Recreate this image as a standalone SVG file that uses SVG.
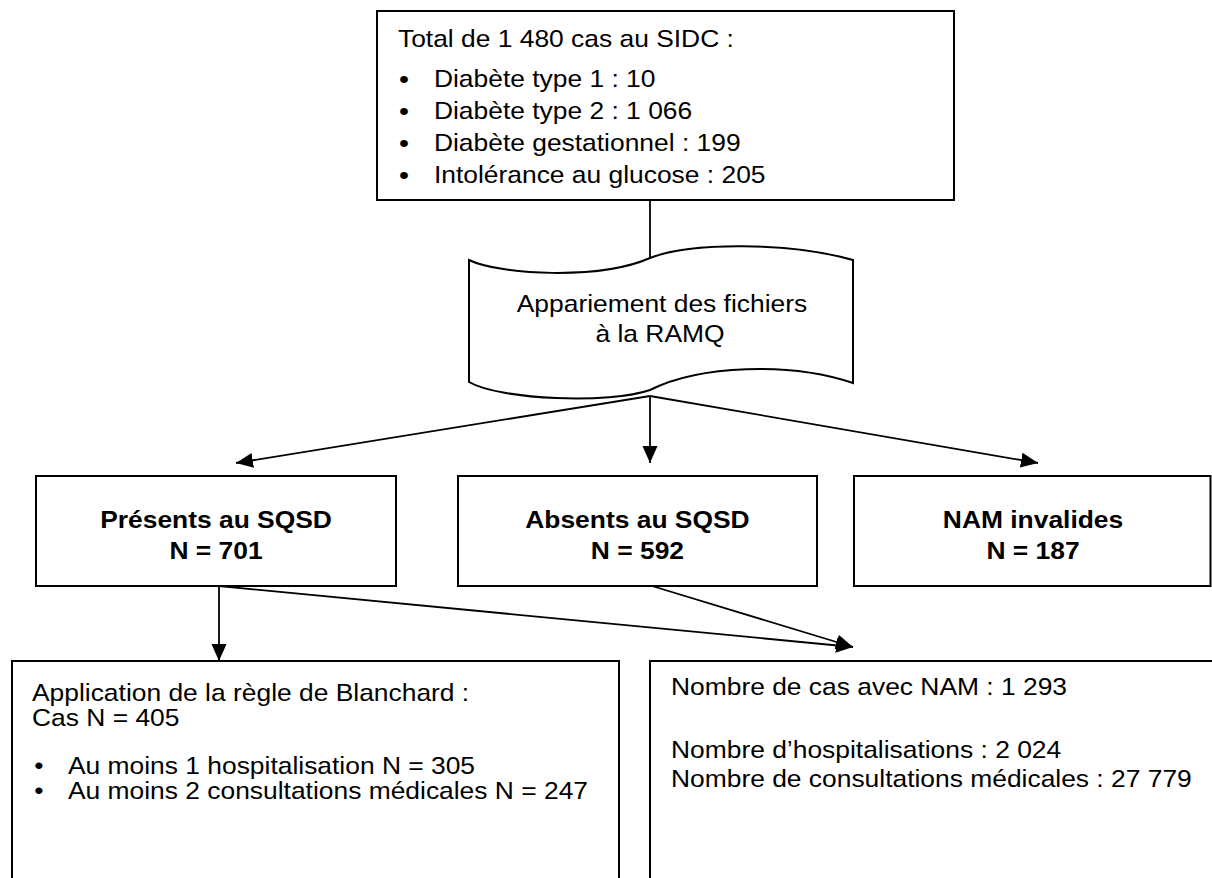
<svg xmlns="http://www.w3.org/2000/svg" width="1212" height="878" viewBox="0 0 1212 878">
<defs>
<marker id="ah" markerUnits="userSpaceOnUse" markerWidth="18" markerHeight="16" refX="17" refY="7.5" orient="auto">
<path d="M0,0 L17,7.5 L0,15 Z" fill="#000"/>
</marker>
<style>
.box{fill:#fff;stroke:#000;stroke-width:2}
.t{font-family:"Liberation Sans",Arial,sans-serif;font-size:24px;fill:#000}
.b{font-family:"Liberation Sans",Arial,sans-serif;font-size:24px;font-weight:bold;fill:#000;text-anchor:middle}
.bul{font-size:26px}
.c{text-anchor:middle}
.ln{fill:none;stroke:#000;stroke-width:1.8}
.arr{fill:none;stroke:#000;stroke-width:1.8;marker-end:url(#ah)}
</style>
</defs>
<rect width="1212" height="878" fill="#fff"/>
<g id="connectors">
<line class="ln" x1="650" y1="200" x2="650" y2="258"/>
<line class="arr" x1="650" y1="396" x2="236" y2="463"/>
<line class="arr" x1="650" y1="396" x2="650" y2="463"/>
<line class="arr" x1="650" y1="396" x2="1038" y2="463"/>
<line class="arr" x1="219" y1="586" x2="219" y2="661"/>
<line class="arr" x1="219" y1="586" x2="853" y2="647"/>
<line class="arr" x1="652" y1="586" x2="853" y2="647"/>
</g>
<g id="total">
<rect class="box" x="377" y="11" width="577" height="189" stroke-width="2.4"/>
<text class="t" transform="scale(1.1,1)"><tspan x="361.8" y="47">Total de 1 480 cas au SIDC :</tspan><tspan class="bul" x="362.7" y="88">•</tspan><tspan x="394.5" y="87">Diabète type 1 : 10</tspan><tspan class="bul" x="362.7" y="120.5">•</tspan><tspan x="394.5" y="119.5">Diabète type 2 : 1 066</tspan><tspan class="bul" x="362.7" y="152.5">•</tspan><tspan x="394.5" y="151.5">Diabète gestationnel : 199</tspan><tspan class="bul" x="362.7" y="184.5">•</tspan><tspan x="394.5" y="183.5">Intolérance au glucose : 205</tspan></text>
</g>
<g id="appariement">
<path class="box" d="M469,260 C500,275 600,280 650,258 C690,242 790,242 853,260 L853,383 C790,362 700,365 650,390 C610,404 500,400 469,382 Z"/>
<text class="t c" transform="scale(1.1,1)"><tspan x="601.8" y="312">Appariement des fichiers</tspan><tspan x="600" y="342">à la RAMQ</tspan></text>
</g>
<g id="presents">
<rect class="box" x="36" y="476" width="360" height="110"/>
<text class="b" transform="scale(1.1,1)"><tspan x="196.4" y="528">Présents au SQSD</tspan><tspan x="196.4" y="559">N = 701</tspan></text>
</g>
<g id="absents">
<rect class="box" x="458" y="476" width="359" height="110"/>
<text class="b" transform="scale(1.1,1)"><tspan x="579.5" y="528">Absents au SQSD</tspan><tspan x="579.5" y="559">N = 592</tspan></text>
</g>
<g id="invalides">
<rect class="box" x="854" y="476" width="356.5" height="110"/>
<text class="b" transform="scale(1.1,1)"><tspan x="939.1" y="528">NAM invalides</tspan><tspan x="939.1" y="559">N = 187</tspan></text>
</g>
<g id="blanchard">
<rect class="box" x="12" y="661" width="607" height="240"/>
<text class="t" transform="scale(1.1,1)"><tspan x="29.1" y="701">Application de la règle de Blanchard :</tspan><tspan x="29.1" y="726">Cas N = 405</tspan><tspan x="31.2" y="774">•</tspan><tspan x="61.8" y="774">Au moins 1 hospitalisation N = 305</tspan><tspan x="31.2" y="799">•</tspan><tspan x="61.8" y="799">Au moins 2 consultations médicales N = 247</tspan></text>
</g>
<g id="nombre">
<rect class="box" x="650" y="661" width="600" height="240"/>
<text class="t" transform="scale(1.1,1)"><tspan x="610" y="695">Nombre de cas avec NAM : 1 293</tspan><tspan x="610" y="758">Nombre d’hospitalisations : 2 024</tspan><tspan x="610" y="787">Nombre de consultations médicales : 27 779</tspan></text>
</g>
</svg>
